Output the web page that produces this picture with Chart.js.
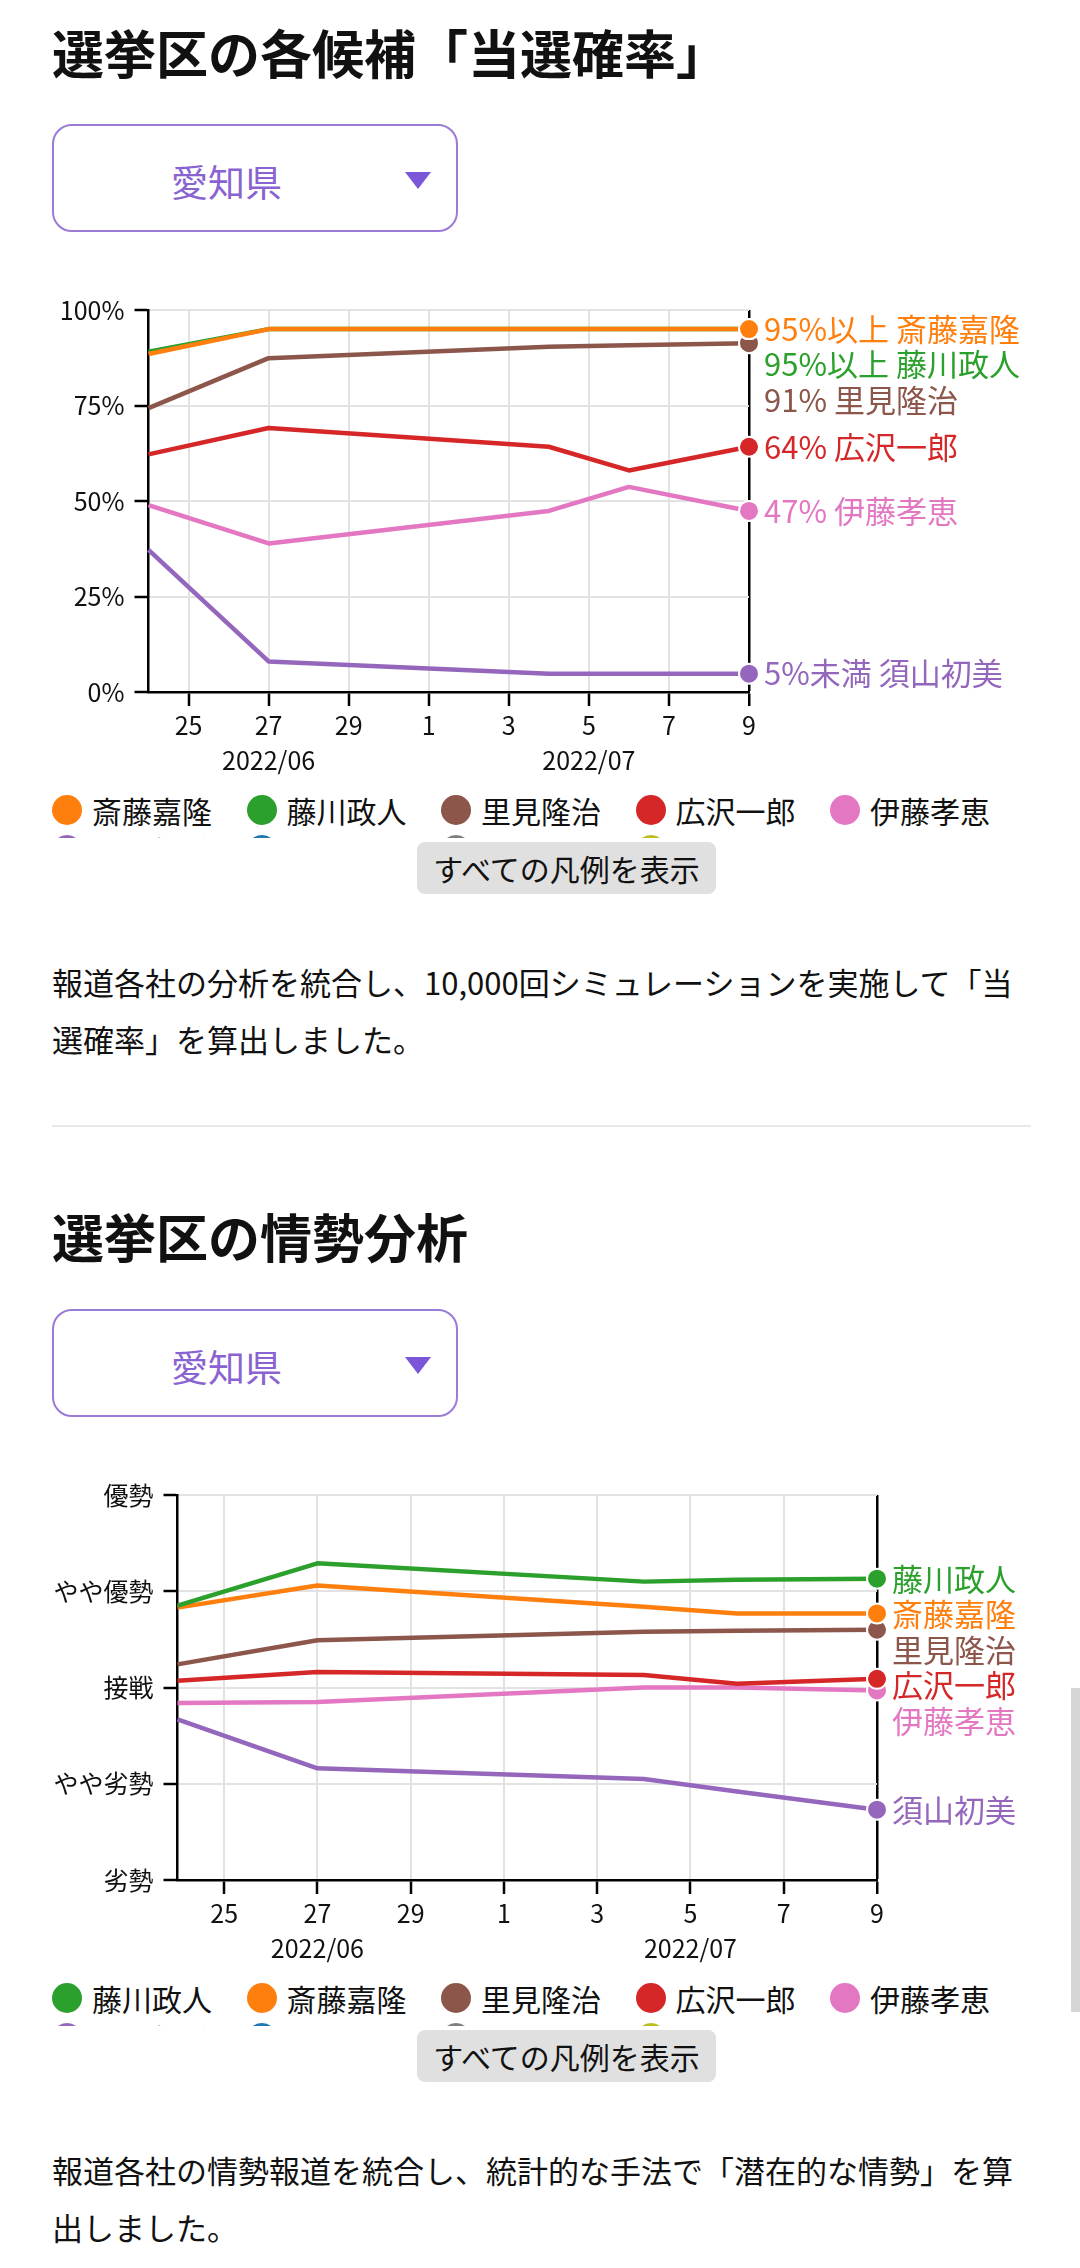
<!DOCTYPE html>
<html lang="ja">
<head>
<meta charset="utf-8">
<title>選挙区の各候補「当選確率」</title>
<script src="https://cdn.jsdelivr.net/npm/chart.js@4.4.1/dist/chart.umd.min.js"></script>
<style>
  html, body { margin: 0; padding: 0; background: #fff; }
  body { width: 1080px; position: relative; font-family: 'Noto Sans CJK JP', 'Noto Sans', sans-serif; color: #111; }
  .wrap { padding: 0 52px; }
  h2 { font-size: 52px; font-weight: 700; line-height: 60px; margin: 22px 0 0; }
  h2.second { margin-top: 79px; }
  .select { box-sizing: border-box; position: relative; width: 406px; height: 108px; margin-top: 42px;
            border: 2px solid #9a7bd6; border-radius: 20px; }
  .select.second { margin-top: 43px; }
  .select span { position: absolute; left: 117px; top: 33px; font-size: 37px; line-height: 44px; color: #8a63d2; }
  .select i { position: absolute; left: 351px; top: 46px; width: 0; height: 0;
              border-left: 13px solid transparent; border-right: 13px solid transparent; border-top: 17px solid #7c56d8; }
  .chart { position: relative; width: 976px; margin-top: 53px; }
  .legend { height: 48px; overflow: hidden; display: flex; flex-wrap: wrap; }
  .legend .item { display: flex; align-items: center; height: 40px; width: 160px; margin-right: 34.5px; font-size: 30px; }
  .legend .dot { width: 30px; height: 30px; border-radius: 50%; margin-right: 10px; flex: none; }
  .btn { margin: 4px 0 0 365px; width: 299px; height: 52px; background: #e0e0e0; border-radius: 8px;
         font-size: 30px; line-height: 52px; text-align: center; }
  p { font-size: 31px; line-height: 57px; margin: 59px 0 0; }
  .sep { height: 2px; width: 979px; background: #e9e9e9; margin-top: 58px; }
  .scroll { position: absolute; left: 1071px; top: 1688px; width: 9px; height: 324px; background: #d6d6d6; }
</style>
</head>
<body>
<div class="wrap">
  <h2>選挙区の各候補「当選確率」</h2>
  <div class="select"><span>愛知県</span><i></i></div>
  <div class="chart" style="height:505px"><canvas id="graficoProb"></canvas></div>
  <div class="legend" id="leyendaProb"></div>
  <div class="btn">すべての凡例を表示</div>
  <p>報道各社の分析を統合し、10,000回シミュレーションを実施して「当選確率」を算出しました。</p>
  <div class="sep"></div>

  <h2 class="second">選挙区の情勢分析</h2>
  <div class="select second"><span>愛知県</span><i></i></div>
  <div class="chart" style="height:508px"><canvas id="graficoJosei"></canvas></div>
  <div class="legend" id="leyendaJosei"></div>
  <div class="btn">すべての凡例を表示</div>
  <p>報道各社の情勢報道を統合し、統計的な手法で「潜在的な情勢」を算出しました。</p>
</div>
<div class="scroll"></div>

<script>
// fechas de los datos
var dates = ['2022-06-24', '2022-06-27', '2022-07-04', '2022-07-06', '2022-07-09'];

// eje x: ticks cada 2 días
var tickDates = ['2022-06-25', '2022-06-27', '2022-06-29', '2022-07-01', '2022-07-03', '2022-07-05', '2022-07-07', '2022-07-09'];
var tickLabels = ['25', '27', '29', '1', '3', '5', '7', '9'];
var monthDates = ['2022-06-27', '2022-07-05'];
var monthLabels = ['2022/06', '2022/07'];

// gráfico 1: 当選確率 (%)
var probNames = ['斎藤嘉隆', '藤川政人', '里見隆治', '広沢一郎', '伊藤孝恵', '須山初美'];
var probColors = ['#ff7f0e', '#2ca02c', '#8c564b', '#d62728', '#e377c2', '#9467bd'];
var probSaito = [88.5, 95, 95, 95, 95];
var probFujikawa = [89.1, 95, 95, 95, 95];
var probSatomi = [74.3, 87.4, 90.4, 90.8, 91.3];
var probHirosawa = [62.2, 69.1, 64.2, 58.0, 64.2];
var probIto = [48.9, 38.9, 47.4, 53.7, 47.4];
var probSuyama = [37.2, 8.0, 4.8, 4.8, 4.8];
var probTicks = [0, 25, 50, 75, 100];

// gráfico 2: 情勢 (0 = 劣勢 ... 4 = 優勢)
var joseiNames = ['藤川政人', '斎藤嘉隆', '里見隆治', '広沢一郎', '伊藤孝恵', '須山初美'];
var joseiColors = ['#2ca02c', '#ff7f0e', '#8c564b', '#d62728', '#e377c2', '#9467bd'];
var joseiFujikawa = [2.85, 3.29, 3.10, 3.12, 3.13];
var joseiSaito = [2.83, 3.06, 2.84, 2.77, 2.77];
var joseiSatomi = [2.24, 2.49, 2.58, 2.59, 2.60];
var joseiHirosawa = [2.07, 2.16, 2.13, 2.04, 2.09];
var joseiIto = [1.84, 1.85, 2.00, 2.00, 1.97];
var joseiSuyama = [1.67, 1.16, 1.05, 0.92, 0.73];
var levelLabels = ['劣勢', 'やや劣勢', '接戦', 'やや優勢', '優勢'];

// leyenda recortada: colores de los demás candidatos (segunda fila)
var otherColors = ['#1f77b4', '#7f7f7f', '#bcbd22'];

Chart.defaults.font.family = "'Noto Sans CJK JP', 'Noto Sans', sans-serif";
Chart.defaults.font.size = 25;
Chart.defaults.color = '#111';

function dayOf(d) {
  return (Date.parse(d) - Date.parse(dates[0])) / 86400000;
}
var xMax = dayOf(dates[dates.length - 1]);

function makeDatasets(names, colors, series) {
  return names.map(function (name, i) {
    return {
      label: name,
      data: series[i].map(function (v, j) { return { x: dayOf(dates[j]), y: v }; }),
      borderColor: colors[i],
      backgroundColor: colors[i],
      borderWidth: 4.5,
      borderJoinStyle: 'round',
      tension: 0,
      clip: false,
      pointRadius: function (c) { return c.dataIndex === c.dataset.data.length - 1 ? 10 : 0; },
      pointBackgroundColor: colors[i],
      pointBorderColor: '#fff',
      pointBorderWidth: 2,
    };
  });
}

// etiquetas a la derecha del último punto
var endLabels = {
  id: 'endLabels',
  afterDatasetsDraw: function (chart, args, opts) {
    var ctx = chart.ctx;
    var items = chart.data.datasets.map(function (ds, i) {
      var meta = chart.getDatasetMeta(i);
      var pt = meta.data[meta.data.length - 1];
      return { y: pt.y, text: opts.format(ds), color: ds.borderColor };
    });
    items.sort(function (a, b) { return a.y - b.y; });
    var prev = -Infinity;
    ctx.save();
    ctx.font = '31px ' + Chart.defaults.font.family;
    ctx.textBaseline = 'middle';
    ctx.textAlign = 'left';
    items.forEach(function (it) {
      var y = Math.max(it.y, prev + opts.gap);
      prev = y;
      ctx.fillStyle = it.color;
      ctx.fillText(it.text, chart.chartArea.right + 15, y);
    });
    ctx.restore();
  },
};

function xScale() {
  return {
    type: 'linear',
    min: 0,
    max: xMax,
    afterBuildTicks: function (scale) {
      scale.ticks = tickDates.map(function (d) { return { value: dayOf(d) }; });
    },
    afterFit: function (scale) { scale.height = 98; },
    ticks: {
      padding: 2,
      maxRotation: 0,
      autoSkip: false,
      font: { size: 25, lineHeight: 1.4 },
      callback: function (value) {
        var i = tickDates.findIndex(function (d) { return dayOf(d) === value; });
        var m = monthDates.findIndex(function (d) { return dayOf(d) === value; });
        return m >= 0 ? [tickLabels[i], monthLabels[m]] : tickLabels[i];
      },
    },
    grid: {
      color: function (c) { return c.tick && c.tick.value === xMax ? '#000' : '#e2e2e2'; },
      lineWidth: function (c) { return c.tick && c.tick.value === xMax ? 2.5 : 2; },
      tickColor: '#000',
      tickWidth: 2.5,
      tickLength: 14,
    },
    border: { color: '#000', width: 2.5 },
  };
}

function yScale(width, min, max, step, fmt) {
  return {
    min: min,
    max: max,
    afterFit: function (scale) { scale.width = width; },
    ticks: { stepSize: step, padding: 10, callback: fmt },
    grid: { color: '#e2e2e2', lineWidth: 2, tickColor: '#000', tickWidth: 2.5, tickLength: 14 },
    border: { color: '#000', width: 2.5 },
  };
}

function makeLegend(id, names, colors) {
  var el = document.getElementById(id);
  var html = '';
  names.forEach(function (n, i) {
    html += '<div class="item"><span class="dot" style="background:' + colors[i] + '"></span>' + n + '</div>';
  });
  otherColors.forEach(function (c) {
    html += '<div class="item"><span class="dot" style="background:' + c + '"></span></div>';
  });
  el.innerHTML = html;
}

// INICIO gráfico 1
new Chart(document.getElementById('graficoProb'), {
  type: 'line',
  data: {
    datasets: makeDatasets(probNames, probColors,
      [probSaito, probFujikawa, probSatomi, probHirosawa, probIto, probSuyama]),
  },
  options: {
    responsive: true,
    maintainAspectRatio: false,
    animation: false,
    layout: { padding: { top: 0, right: 279, bottom: 0, left: 0 } },
    scales: {
      x: xScale(),
      y: yScale(96.5, probTicks[0], probTicks[probTicks.length - 1], 25, function (v) { return v + '%'; }),
    },
    plugins: {
      legend: { display: false },
      tooltip: { enabled: false },
      endLabels: {
        gap: 35.5,
        format: function (ds) {
          var v = ds.data[ds.data.length - 1].y;
          var t = v >= 95 ? '95%以上' : v < 5 ? '5%未満' : Math.round(v) + '%';
          return t + ' ' + ds.label;
        },
      },
    },
  },
  plugins: [endLabels],
});
makeLegend('leyendaProb', probNames, probColors);
// FIN gráfico 1

// INICIO gráfico 2
new Chart(document.getElementById('graficoJosei'), {
  type: 'line',
  data: {
    datasets: makeDatasets(joseiNames, joseiColors,
      [joseiFujikawa, joseiSaito, joseiSatomi, joseiHirosawa, joseiIto, joseiSuyama]),
  },
  options: {
    responsive: true,
    maintainAspectRatio: false,
    animation: false,
    layout: { padding: { top: 0, right: 151, bottom: 0, left: 0 } },
    scales: {
      x: xScale(),
      y: yScale(125.5, 0, levelLabels.length - 1, 1, function (v) { return levelLabels[v]; }),
    },
    plugins: {
      legend: { display: false },
      tooltip: { enabled: false },
      endLabels: { gap: 35.5, format: function (ds) { return ds.label; } },
    },
  },
  plugins: [endLabels],
});
makeLegend('leyendaJosei', joseiNames, joseiColors);
// FIN gráfico 2
</script>
</body>
</html>
